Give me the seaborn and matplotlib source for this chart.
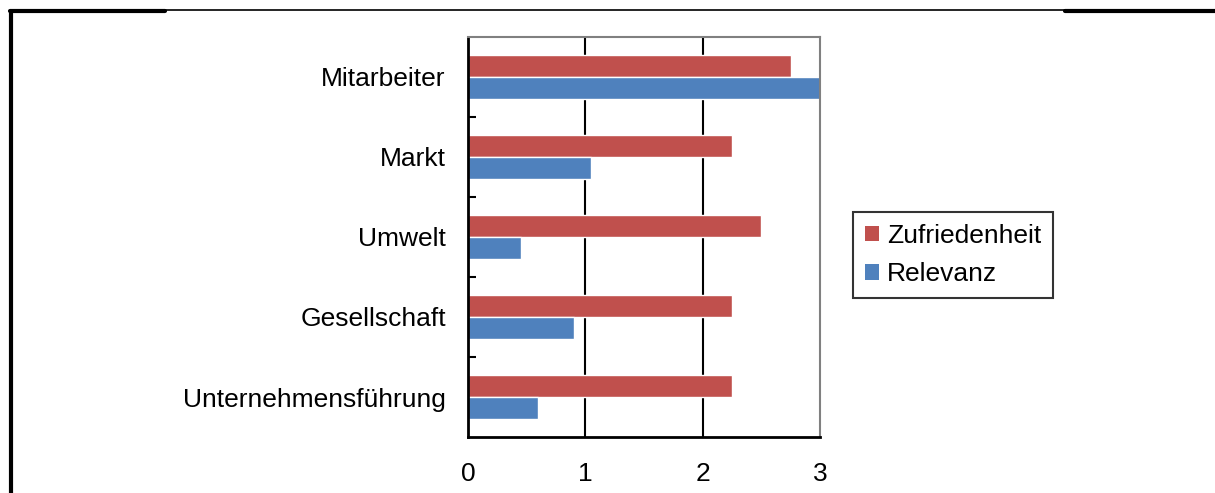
import matplotlib
matplotlib.use("Agg")
import matplotlib.pyplot as plt
from matplotlib.lines import Line2D
from matplotlib.patches import Patch
from matplotlib.ticker import FixedLocator
import seaborn as sns
import pandas as pd

# Daten
kategorien = ["Mitarbeiter", "Markt", "Umwelt", "Gesellschaft", "Unternehmensführung"]
zufriedenheit = [2.75, 2.25, 2.5, 2.25, 2.25]
relevanz = [3.0, 1.05, 0.45, 0.9, 0.6]
serien = ["Zufriedenheit", "Relevanz"]
farben = ["#C0504D", "#4F81BD"]
x_ticks = [0, 1, 2, 3]

df = pd.DataFrame({
    "Kategorie": kategorien * 2,
    "Wert": zufriedenheit + relevanz,
    "Serie": [serien[0]] * len(kategorien) + [serien[1]] * len(kategorien),
})

sns.set_style("white")
plt.rcParams["font.family"] = ["Liberation Sans", "DejaVu Sans"]
plt.rcParams["text.color"] = "black"
plt.rcParams["xtick.color"] = "black"
plt.rcParams["ytick.color"] = "black"

fig = plt.figure(figsize=(12.15, 4.93), dpi=100)
ax = fig.add_axes([468 / 1215, 1 - 437 / 493, 352 / 1215, 400 / 493])

sns.barplot(data=df, y="Kategorie", x="Wert", hue="Serie", order=kategorien,
            hue_order=serien, palette=farben, orient="h", width=0.56,
            saturation=1, legend=False, ax=ax)

ax.set_xlim(0, 3)
ax.set_ylim(len(kategorien) - 0.5, -0.5)
ax.set_xticks(x_ticks)
ax.set_xticklabels([str(t) for t in x_ticks], fontsize=19)
ax.set_xlabel("")
ax.set_ylabel("")
ax.tick_params(axis="x", length=0, pad=18, labelcolor="black")
ax.tick_params(axis="y", length=0, pad=16, labelsize=19, labelcolor="black")
ax.yaxis.set_minor_locator(FixedLocator([0.5, 1.5, 2.5, 3.5]))
ax.tick_params(axis="y", which="minor", direction="in", length=6, width=1.5,
               color="black", left=True)

# Gitterlinien
for g in [1, 2]:
    ax.axvline(g, color="black", lw=1.5, zorder=0)

for side in ["left", "bottom"]:
    ax.spines[side].set_color("black")
    ax.spines[side].set_linewidth(2)
for side in ["right", "top"]:
    ax.spines[side].set_color("#808080")
    ax.spines[side].set_linewidth(1.5)

# Legende
handles = [Patch(facecolor=c, edgecolor="none") for c in farben]
leg = fig.legend(handles, serien, loc="upper left",
                 bbox_to_anchor=(853 / 1215, 1 - 212 / 493), fontsize=19,
                 frameon=True, fancybox=False, handlelength=0.55, handleheight=0.55,
                 handletextpad=0.3, borderpad=0.45, labelspacing=0.55,
                 borderaxespad=0)
leg.get_frame().set_edgecolor("black")
leg.get_frame().set_linewidth(1.5)
for t in leg.get_texts():
    t.set_color("black")

# Rahmen (Ausschnitt)
yt = 1 - 11 / 493
fig.add_artist(Line2D([165 / 1215, 1065 / 1215], [yt + 0.002, yt + 0.002], color="black", lw=1.2))
fig.add_artist(Line2D([10 / 1215, 165 / 1215], [yt, yt], color="black", lw=3))
fig.add_artist(Line2D([1065 / 1215, 1.0], [yt, yt], color="black", lw=3))
fig.add_artist(Line2D([11 / 1215, 11 / 1215], [0, yt], color="black", lw=3))

fig.savefig("out.png", dpi=100)
